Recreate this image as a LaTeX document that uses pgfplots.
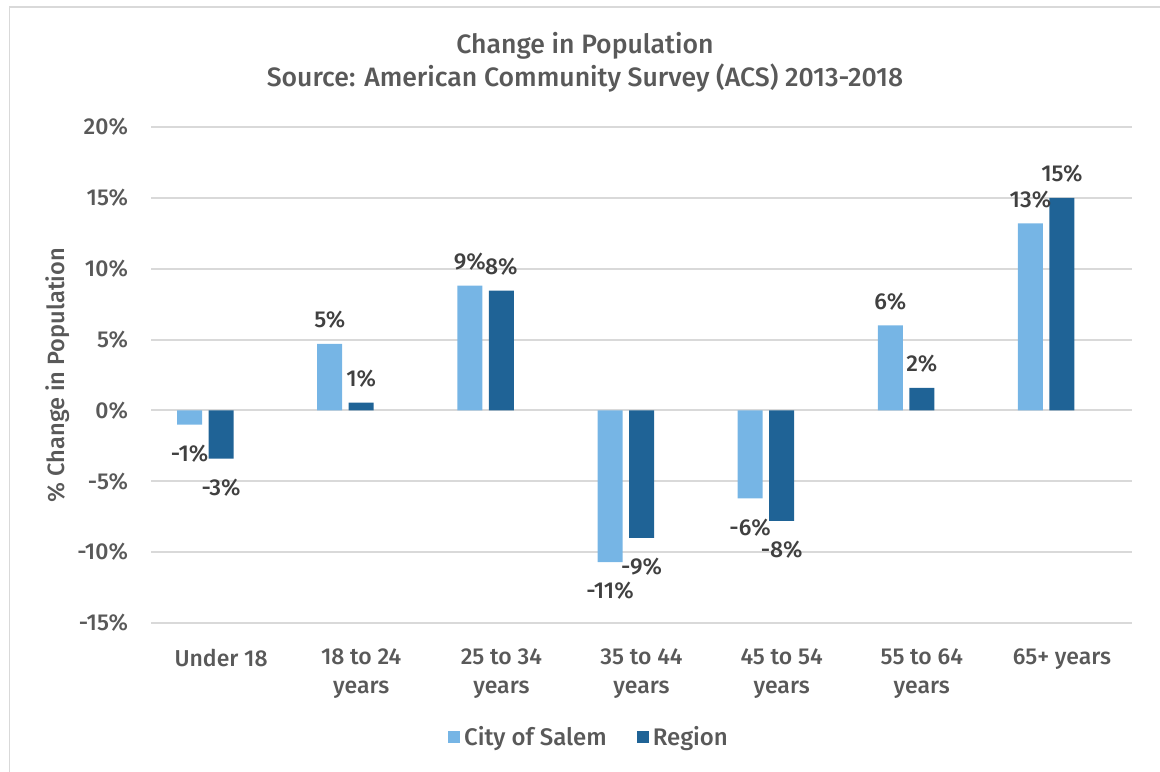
\documentclass[border=0pt]{standalone}
\usepackage{pgfplots}
\pgfplotsset{compat=1.18}
\usepackage{fontspec}
\setmainfont{Fira Sans}[UprightFont={* Medium}, BoldFont={* SemiBold}]
\definecolor{salem}{HTML}{76B5E5}
\definecolor{region}{HTML}{1F6396}
\definecolor{txt}{HTML}{595959}
\definecolor{lbl}{HTML}{404040}
\definecolor{gridc}{HTML}{D9D9D9}
\begin{document}
\begin{tikzpicture}
\begin{axis}[
  at={(0pt,0pt)}, anchor=south west,
  scale only axis, width=490.5pt, height=248pt,
  xmin=-0.5, xmax=6.5, ymin=-15, ymax=20,
  ytick={-15,-10,...,20},
  xtick={0,1,2,3,4,5,6},
  xticklabels={Under 18, 18 to 24\\years, 25 to 34\\years, 35 to 44\\years, 45 to 54\\years, 55 to 64\\years, 65+ years},
  axis line style={draw=none},
  major tick length=0pt,
  xmajorgrids=false, ymajorgrids=true, grid style={color=gridc, line width=1pt},
  /pgf/number format/assume math mode=true,
  yticklabel={\pgfmathprintnumber{\tick}\%},
  tick label style={text=txt, font=\fontsize{11.5}{14.5}\selectfont},
  yticklabel style={anchor=east, xshift=-8pt},
  xticklabel style={align=center, anchor=north, yshift=-9.5pt},
  title={Change in Population\\Source: American Community Survey (ACS) 2013-2018},
  title style={at={(axis description cs:0.4424,1.106)}, anchor=center, align=center, text=txt, font=\fontsize{13.3}{16.5}\selectfont},
  ybar, bar width=12.5pt,
  nodes near coords={\pgfmathprintnumber[fixed,precision=0]{\pgfplotspointmeta}\%},
  every node near coord/.append style={anchor=center, text=lbl, font=\fontsize{11.5}{13}\selectfont, yshift=\ysh pt},
  visualization depends on={value \thisrow{ys} \as \ysh},
  legend style={at={(axis description cs:0.4475,-0.23)}, anchor=center, draw=none, fill=none, legend columns=-1, text=txt, font=\fontsize{12}{13}\selectfont,
    /tikz/every even column/.append style={column sep=13pt}},
  legend image code/.code={\fill[#1] (0pt,-3pt) rectangle (6pt,3pt);},
]
\addplot[fill=salem, draw=none, bar shift=-15.75pt] table {
x y ys
0 -1.0 -14.5
1 4.7 12
2 8.8 12
3 -10.7 -14.5
4 -6.2 -14.5
5 6.0 12
6 13.2 12
};
\addlegendentry{City of Salem}
\addplot[fill=region, draw=none, bar shift=0pt] table {
x y ys
0 -3.4 -14.5
1 0.55 12
2 8.45 12
3 -9.0 -14.5
4 -7.8 -14.5
5 1.6 12
6 15.0 12
};
\addlegendentry{Region}
\end{axis}
\node[rotate=90, text=txt, font=\fontsize{11.8}{13}\selectfont] at (-46.5pt,124pt) {\% Change in Population};
\draw[gridc, line width=0.75pt] (-70.75pt,-80pt) rectangle (510pt,308pt);
\pgfresetboundingbox
\useasboundingbox (-75.5pt,-74pt) rectangle (504.5pt,311.5pt);
\end{tikzpicture}
\end{document}
